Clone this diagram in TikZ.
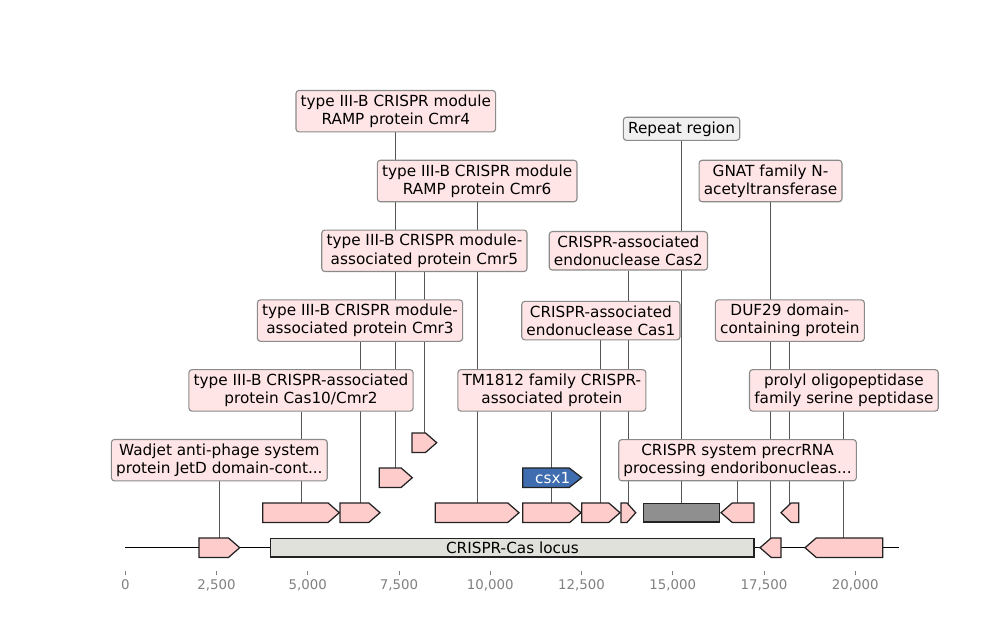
\documentclass[tikz,border=0pt]{standalone}
\usepackage{fontspec}
\setmainfont{DejaVu Sans}[Ligatures=CommonOff]
\usetikzlibrary{shapes.arrows,backgrounds}
\definecolor{cPink}{HTML}{FFCCCC}
\definecolor{cPinkBg}{HTML}{FFE5E5}
\definecolor{cLocus}{HTML}{E1E1DB}
\definecolor{cRepeat}{HTML}{8F8F8F}
\definecolor{cRepeatBg}{HTML}{F0F0F0}
\definecolor{cBlue}{HTML}{3F6DB0}
\definecolor{cEdge}{HTML}{222222}
\definecolor{cFrame}{HTML}{8A8A8A}
\definecolor{cLead}{HTML}{555555}
\definecolor{cAxis}{HTML}{808080}

\begin{document}
\begin{tikzpicture}[
  x=26.28pt, y=0.72pt,
  font=\fontsize{11}{13.2}\selectfont,
  gene/.style={single arrow, single arrow head extend=0pt,
               single arrow tip angle=82, inner xsep=0pt, inner ysep=6.6pt,
               minimum width=0pt, outer sep=0pt, anchor=tail,
               draw=cEdge, fill=cPink, line width=0.9pt},
  fwd/.style n args={3}{gene, at={(#1,#3)}, minimum height={(#2-#1)*26.28pt}},
  rev/.style n args={3}{gene, shape border rotate=180, at={(#2,#3)},
                        minimum height={(#2-#1)*26.28pt}},
  region/.style n args={3}{draw=cEdge, line width=0.9pt, inner sep=0pt,
                           outer sep=0pt, minimum height=13.2pt, anchor=west,
                           at={(#1,#3)}, minimum width={(#2-#1)*26.28pt}},
  lbl/.style={draw=cFrame, fill=cPinkBg, rounded corners=2.2pt, align=center,
              inner xsep=3.4pt, inner ysep=3pt, line width=0.8pt},
  lead/.style={cLead, line width=0.7pt},
  backbone/.style={black, line width=1.1pt},
  tickmark/.style={cAxis, line width=0.7pt},
  ticklbl/.style={text=cAxis, font=\fontsize{9.6}{11.5}\selectfont},
]
\useasboundingbox (-3.433,-92.3) rectangle (23.964,547.7);

% ---------- sequence level ----------
\node[fwd={2.019}{3.134}{0}] (jetd) {};
\node[region={3.984}{17.225}{0}, fill=cLocus] (locus) {CRISPR-Cas locus};
\node[rev={17.389}{17.964}{0}] (gnat) {};
\node[rev={18.622}{20.751}{0}] (prolyl) {};

% ---------- first row of genes ----------
\node[fwd={3.764}{5.863}{35}] (cas10) {};
\node[fwd={5.882}{6.978}{35}] (cmr3) {};
\node[fwd={8.493}{10.786}{35}] (cmr6) {};
\node[fwd={10.888}{12.485}{35}] (tm1812) {};
\node[fwd={12.504}{13.553}{35}] (cas1) {};
\node[fwd={13.581}{13.984}{35}, single arrow tip angle=96] (cas2) {};
\node[region={14.192}{16.285}{35}, fill=cRepeat] (repeat) {};
\node[rev={16.321}{17.225}{35}] (precr) {};
\node[rev={17.964}{18.449}{35}, single arrow tip angle=88] (duf29) {};

% ---------- upper rows ----------
\node[fwd={6.959}{7.863}{70}] (cmr4) {};
\node[fwd={10.888}{12.504}{70}, fill=cBlue, single arrow tip angle=76] (csx1) {};
\node[text=white] (csx1name) at (11.71,70) {csx1};
\node[fwd={7.855}{8.532}{105}] (cmr5) {};

% ---------- labels ----------
\node[lbl] (jetdlab) at (2.577,87.5) {Wadjet anti-phage system\\protein JetD domain-cont...};
\node[lbl] (precrlab) at (16.773,87.5) {CRISPR system precrRNA\\processing endoribonucleas...};
\node[lbl] (cas10lab) at (4.814,157.3) {type III-B CRISPR-associated\\protein Cas10/Cmr2};
\node[lbl] (tm1812lab) at (11.687,157.3) {TM1812 family CRISPR-\\associated protein};
\node[lbl] (prolyllab) at (19.687,157.3) {prolyl oligopeptidase\\family serine peptidase};
\node[lbl] (cmr3lab) at (6.430,227.1) {type III-B CRISPR module-\\associated protein Cmr3};
\node[lbl] (cas1lab) at (13.029,227.1) {CRISPR-associated\\endonuclease Cas1};
\node[lbl] (duf29lab) at (18.207,227.1) {DUF29 domain-\\containing protein};
\node[lbl] (cmr5lab) at (8.194,296.9) {type III-B CRISPR module-\\associated protein Cmr5};
\node[lbl] (cas2lab) at (13.783,296.9) {CRISPR-associated\\endonuclease Cas2};
\node[lbl] (cmr6lab) at (9.640,366.7) {type III-B CRISPR module\\RAMP protein Cmr6};
\node[lbl] (gnatlab) at (17.677,366.7) {GNAT family N-\\acetyltransferase};
\node[lbl] (cmr4lab) at (7.411,436.5) {type III-B CRISPR module\\RAMP protein Cmr4};
\node[lbl, fill=cRepeatBg] (repeatlab) at (15.239,418.9) {Repeat region};

% ---------- backbone and leads ----------
\begin{scope}[on background layer]
  \coordinate (seqstart) at (0,0);
  \coordinate (seqend) at (21.197,0);
  \draw[backbone] (seqstart) -- (seqend);
  \foreach \g in {jetd,cas10,cmr3,cmr4,cmr5,cmr6,tm1812,cas1,cas2,repeat,precr,gnat,duf29,prolyl}
    \draw[lead] (\g lab) -- (\g lab |- \g.center);
\end{scope}

% ---------- axis ----------
\foreach \k/\t [count=\i] in {0/0, 2.5/{2,500}, 5/{5,000}, 7.5/{7,500}, 10/{10,000},
                             12.5/{12,500}, 15/{15,000}, 17.5/{17,500}, 20/{20,000}} {
  \draw[tickmark] (\k,-23) -- (\k,-27.3);
  \node[ticklbl] (tick\i) at (\k,-37.3) {\t};
}

\end{tikzpicture}
\end{document}
